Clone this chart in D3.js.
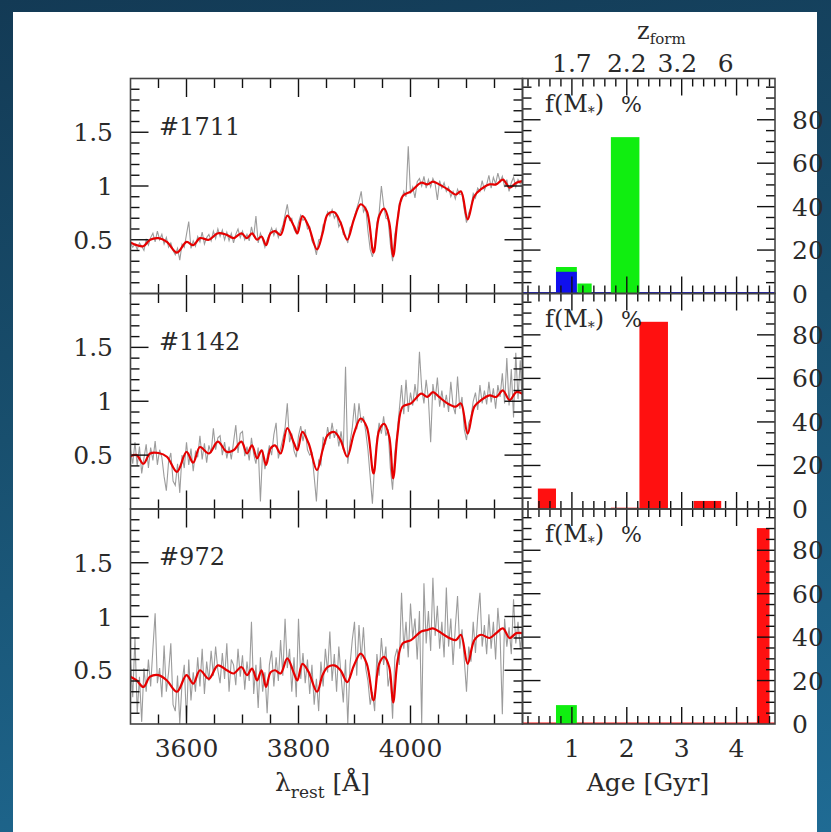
<!DOCTYPE html>
<html>
<head>
<meta charset="utf-8">
<script src="https://cdn.jsdelivr.net/npm/d3@7"></script>
<style>
    html, body { margin: 0; padding: 0; }
    body {
        width: 831px; height: 832px; overflow: hidden;
        background: linear-gradient(170deg, #133a55 0%, #184f6e 45%, #1f6b94 100%);
    }
    svg { display: block; }
    text { font-family: "DejaVu Serif", "Liberation Serif", serif; fill: #2a2a2a; }
</style>
</head>
<body>
<svg id="chart" width="831" height="832"></svg>
<script>

// galaxy ids, top to bottom
var galaxyIds = ["#1711", "#1142", "#972"];

// best fit model (red), read at these rest wavelengths
var modelWave = [3500, 3511, 3523, 3535, 3550, 3565, 3583, 3600, 3612, 3624,
    3640, 3656, 3672, 3684, 3698, 3708, 3717, 3726, 3734, 3742,
    3750, 3758, 3768, 3780, 3792, 3798, 3807, 3818, 3833, 3843,
    3852, 3864, 3875, 3887, 3899, 3911, 3922, 3934, 3944, 3953,
    3962, 3969, 3977, 3986, 4001, 4019, 4030, 4040, 4051, 4066,
    4081, 4090, 4102, 4114, 4126, 4141, 4153, 4165, 4177, 4189,
    4200];

var model1711 = [0.475, 0.45, 0.44, 0.50, 0.515, 0.48, 0.38, 0.48, 0.45, 0.515,
    0.50, 0.56, 0.545, 0.515, 0.56, 0.515, 0.56, 0.50, 0.53, 0.45,
    0.56, 0.58, 0.545, 0.725, 0.625, 0.56, 0.72, 0.625, 0.41, 0.56,
    0.735, 0.755, 0.66, 0.50, 0.69, 0.83, 0.765, 0.38, 0.72, 0.79,
    0.66, 0.345, 0.69, 0.905, 0.95, 1.03, 1.015, 1.04, 1.015, 0.97,
    0.92, 0.95, 0.69, 0.905, 0.97, 1.015, 1.015, 1.06, 0.985, 1.03,
    1.045];

var model1142 = [0.49, 0.50, 0.42, 0.515, 0.52, 0.485, 0.345, 0.53, 0.43, 0.575,
    0.515, 0.625, 0.53, 0.545, 0.625, 0.515, 0.59, 0.47, 0.545, 0.41,
    0.56, 0.59, 0.515, 0.75, 0.61, 0.545, 0.715, 0.61, 0.36, 0.545,
    0.685, 0.715, 0.64, 0.485, 0.70, 0.84, 0.76, 0.33, 0.73, 0.79,
    0.67, 0.285, 0.70, 0.95, 0.98, 1.07, 1.04, 1.085, 1.04, 0.98,
    0.95, 0.98, 0.70, 0.95, 1.01, 1.055, 1.04, 1.10, 1.01, 1.085,
    1.07];

var model972 = [0.44, 0.405, 0.345, 0.44, 0.455, 0.405, 0.30, 0.455, 0.375, 0.50,
    0.42, 0.545, 0.50, 0.47, 0.53, 0.455, 0.515, 0.405, 0.50, 0.345,
    0.48, 0.50, 0.47, 0.61, 0.47, 0.405, 0.56, 0.485, 0.30, 0.455,
    0.53, 0.545, 0.50, 0.39, 0.545, 0.655, 0.56, 0.22, 0.56, 0.625,
    0.53, 0.20, 0.59, 0.75, 0.78, 0.86, 0.875, 0.89, 0.86, 0.81,
    0.78, 0.83, 0.56, 0.78, 0.83, 0.80, 0.845, 0.89, 0.80, 0.845,
    0.845];

// observed spectra (grey), one value every 4 A from 3500 to 4200
var obs1711 = [0.47, 0.43, 0.46, 0.41, 0.47, 0.44, 0.40, 0.50, 0.45, 0.52,
    0.56, 0.48, 0.58, 0.50, 0.55, 0.46, 0.52, 0.43, 0.47, 0.40,
    0.36, 0.42, 0.31, 0.46, 0.43, 0.55, 0.67, 0.42, 0.49, 0.44,
    0.53, 0.48, 0.57, 0.46, 0.52, 0.55, 0.49, 0.58, 0.51, 0.60,
    0.53, 0.59, 0.50, 0.57, 0.49, 0.56, 0.47, 0.55, 0.60, 0.52,
    0.58, 0.50, 0.55, 0.49, 0.62, 0.53, 0.72, 0.47, 0.56, 0.50,
    0.43, 0.50, 0.55, 0.61, 0.54, 0.60, 0.52, 0.58, 0.63, 0.73,
    0.83, 0.68, 0.70, 0.60, 0.56, 0.66, 0.73, 0.68, 0.70, 0.60,
    0.62, 0.49, 0.45, 0.36, 0.50, 0.51, 0.64, 0.66, 0.76, 0.72,
    0.78, 0.70, 0.74, 0.62, 0.66, 0.55, 0.54, 0.47, 0.61, 0.64,
    0.72, 0.79, 0.86, 0.95, 0.76, 0.80, 0.58, 0.41, 0.34, 0.44,
    0.66, 0.75, 1.00, 0.82, 0.70, 0.69, 0.46, 0.30, 0.55, 0.66,
    0.84, 0.86, 0.95, 0.90, 1.37, 0.93, 0.99, 0.89, 1.04, 1.07,
    1.00, 1.09, 0.98, 1.06, 0.99, 1.07, 1.02, 0.87, 1.05, 0.98,
    1.03, 0.95, 0.99, 0.90, 0.95, 0.88, 0.97, 0.92, 0.93, 0.78,
    0.66, 0.75, 0.80, 0.93, 0.89, 0.98, 0.95, 1.05, 0.96, 1.01,
    1.10, 0.98, 1.08, 1.02, 1.12, 1.04, 1.09, 0.99, 1.06, 0.95,
    1.03, 1.08, 0.99, 1.06, 1.02, 1.05];

var obs1142 = [0.55, 0.42, 0.62, 0.40, 0.58, 0.33, 0.47, 0.60, 0.38, 0.57,
    0.45, 0.63, 0.41, 0.55, 0.48, 0.30, 0.17, 0.44, 0.52, 0.26,
    0.22, 0.42, 0.15, 0.50, 0.38, 0.62, 0.41, 0.56, 0.35, 0.53,
    0.48, 0.68, 0.46, 0.61, 0.43, 0.59, 0.52, 0.75, 0.55, 0.66,
    0.68, 0.50, 0.62, 0.47, 0.58, 0.46, 0.62, 0.78, 0.52, 0.70,
    0.72, 0.49, 0.58, 0.45, 0.66, 0.51, 0.42, 0.57, 0.07, 0.55,
    0.37, 0.48, 0.59, 0.50, 0.69, 0.80, 0.47, 0.56, 0.65, 0.75,
    0.98, 0.62, 0.70, 0.54, 0.48, 0.68, 0.77, 0.63, 0.74, 0.55,
    0.50, 0.52, 0.30, 0.07, 0.45, 0.41, 0.67, 0.60, 0.76, 0.65,
    0.80, 0.66, 0.74, 0.58, 0.72, 0.55, 1.32, 0.42, 0.62, 0.75,
    0.98, 0.74, 0.98, 0.80, 0.86, 0.72, 0.55, 0.30, 0.05, 0.42,
    0.65, 0.80, 0.70, 0.86, 0.68, 0.74, 0.38, 0.18, 0.52, 0.71,
    0.92, 1.15, 0.88, 1.20, 0.90, 1.08, 0.96, 1.16, 1.00, 1.46,
    1.12, 0.98, 1.20, 1.02, 0.62, 1.16, 1.01, 1.22, 0.95, 1.10,
    0.94, 1.06, 0.90, 1.18, 0.96, 0.88, 1.23, 0.93, 1.04, 0.74,
    0.64, 0.80, 0.85, 1.00, 1.08, 0.92, 1.15, 0.98, 1.10, 0.97,
    1.18, 0.99, 1.12, 0.93, 1.15, 1.04, 1.26, 0.98, 1.40, 0.96,
    1.30, 0.85, 1.45, 1.02, 1.38, 0.92];

var obs972 = [0.58, 0.25, 0.81, 0.10, 0.44, 0.02, 0.52, 0.30, 0.60, 0.35,
    0.70, 1.03, 0.38, 0.52, 0.25, 0.73, 0.30, 0.48, 0.75, 0.18,
    0.12, 0.45, 0.00, 0.38, 0.55, 0.02, 0.60, 0.22, 0.48, 0.30,
    0.62, 0.35, 0.70, 0.28, 0.58, 0.40, 0.68, 0.45, 0.72, 0.50,
    0.38, 0.66, 0.42, 0.75, 0.30, 0.60, 0.55, 0.36, 0.70, 0.44,
    0.64, 0.32, 0.58, 0.40, 0.95, 0.28, 0.55, 0.15, 0.62, 0.30,
    0.48, 0.10, 0.55, 0.68, 0.35, 0.62, 0.40, 0.78, 0.45, 0.98,
    0.52, 0.70, 0.30, 0.62, 0.25, 0.98, 0.42, 0.66, 0.38, 0.60,
    0.28, 0.55, 0.18, 0.42, 0.12, 0.58, 0.35, 0.70, 0.48, 0.86,
    0.40, 0.65, 0.30, 0.72, 0.45, 0.20, 0.60, 0.00, 0.55, 0.78,
    0.95, 0.45, 0.92, 0.60, 0.90, 0.52, 0.40, 0.18, 0.30, 0.12,
    0.65, 0.45, 0.80, 0.55, 0.72, 0.35, 0.48, 0.05, 0.62, 0.70,
    0.55, 1.22, 0.70, 0.95, 0.62, 1.12, 0.80, 0.98, 0.60, 1.05,
    0.00, 1.31, 0.75, 1.05, 0.68, 1.36, 0.82, 1.10, 0.70, 0.95,
    0.62, 1.27, 0.72, 0.98, 0.55, 0.90, 1.19, 0.70, 0.88, 0.60,
    0.30, 0.72, 0.58, 0.95, 0.66, 1.00, 1.22, 0.72, 0.92, 0.65,
    1.02, 0.70, 0.95, 0.60, 1.08, 0.82, 0.09, 0.98, 0.72, 0.90,
    0.65, 1.16, 0.75, 0.95, 0.70, 0.88];

// age bins of the mass fraction histograms [Gyr]
var binLo = [0.38, 0.71, 1.10, 1.71, 2.23, 3.22, 4.37];
var binHi = [0.71, 1.09, 1.36, 2.23, 2.75, 3.72, 4.60];

// f(M*) in % per bin, one array per colour
var fracRed1711   = [0, 0, 0, 0, 0, 0, 0];
var fracGreen1711 = [0, 12.2, 4.6, 72, 0, 0, 0];
var fracBlue1711  = [0, 10, 0, 0, 0, 0, 0];

var fracRed1142   = [9.4, 0, 0, 0.6, 86, 3.7, 0];
var fracGreen1142 = [0, 0, 0, 0, 0, 0, 0];
var fracBlue1142  = [0, 0, 0, 0, 0, 0, 0];

var fracRed972    = [0, 0, 0, 0, 0, 0, 90.2];
var fracGreen972  = [0, 8.7, 0, 0, 0, 0, 0];
var fracBlue972   = [0, 0, 0, 0, 0, 0, 0];

// axis labels
var waveTicks = [3600, 3800, 4000];
var fluxTicks = [0.5, 1, 1.5];
var ageTicks = [1, 2, 3, 4];
var fracTicks = [0, 20, 40, 60, 80];
var zformLabels = ["1.7", "2.2", "3.2", "6"];
var zformAge = [1, 2, 2.92, 3.8];

(function (d3) {

    "use strict";

    var svg = d3.select("#chart");

    var left = 130.5, mid = 522.5, right = 775;
    var tops = [78.5, 293.5, 509],
        bottoms = [293.5, 509, 724];

    var colRed = "#ff1010", colGreen = "#10ee10", colBlue = "#1010ee";

    // white page
    svg.append("rect")
        .attr("x", 13).attr("y", 12)
        .attr("width", 804).attr("height", 820)
        .attr("fill", "#ffffff");

    var xSpec = d3.scaleLinear().domain([3500, 4200]).range([left, mid]);
    var xAge = d3.scaleLinear().domain([0.1, 4.7]).range([mid, right]);

    var obsWave = d3.range(3500, 4201, 4);

    var panels = [
        { id: galaxyIds[0], model: model1711, obs: obs1711, red: fracRed1711, green: fracGreen1711, blue: fracBlue1711, zero: colBlue },
        { id: galaxyIds[1], model: model1142, obs: obs1142, red: fracRed1142, green: fracGreen1142, blue: fracBlue1142, zero: null },
        { id: galaxyIds[2], model: model972, obs: obs972, red: fracRed972, green: fracGreen972, blue: fracBlue972, zero: colRed }
    ];

    function vTicks(g, xs, y, len) {
        g.selectAll(null).data(xs).enter().append("line")
            .attr("x1", function (d) { return d; }).attr("x2", function (d) { return d; })
            .attr("y1", y).attr("y2", y + len)
            .attr("stroke", "#111").attr("stroke-width", 1.4);
    }

    function hTicks(g, ys, x, len) {
        g.selectAll(null).data(ys).enter().append("line")
            .attr("y1", function (d) { return d; }).attr("y2", function (d) { return d; })
            .attr("x1", x).attr("x2", x + len)
            .attr("stroke", "#111").attr("stroke-width", 1.4);
    }

    panels.forEach(function (p, i) {

        var top = tops[i], bottom = bottoms[i];
        var g = svg.append("g");

        var yFlux = d3.scaleLinear().domain([0, 2]).range([bottom, top]);
        var yFrac = d3.scaleLinear().domain([0, 99]).range([bottom, top]);

        // ----- spectrum panel
        var clipId = "clip" + i;
        svg.append("clipPath").attr("id", clipId)
            .append("rect")
                .attr("x", left).attr("y", top)
                .attr("width", mid - left).attr("height", bottom - top);

        var obsLine = d3.line()
            .x(function (d, k) { return xSpec(obsWave[k]); })
            .y(function (d) { return yFlux(d); });

        var modelLine = d3.line()
            .x(function (d, k) { return xSpec(modelWave[k]); })
            .y(function (d) { return yFlux(d); })
            .curve(d3.curveCatmullRom.alpha(0.5));

        g.append("path")
            .attr("clip-path", "url(#" + clipId + ")")
            .attr("d", obsLine(p.obs))
            .attr("fill", "none")
            .attr("stroke", "#9c9c9c")
            .attr("stroke-width", 1.1);

        g.append("path")
            .attr("clip-path", "url(#" + clipId + ")")
            .attr("d", modelLine(p.model))
            .attr("fill", "none")
            .attr("stroke", "#e60000")
            .attr("stroke-width", 2.2)
            .attr("stroke-linejoin", "round");

        // spectrum ticks
        var waveMinor = d3.range(3550, 4200, 50).filter(function (v) { return waveTicks.indexOf(v) < 0; });
        vTicks(g, waveMinor.map(xSpec), bottom, -9.5);
        vTicks(g, waveTicks.map(xSpec), bottom, -18.5);
        vTicks(g, waveMinor.map(xSpec), top, 9.5);
        vTicks(g, waveTicks.map(xSpec), top, 18.5);

        var fluxMinor = d3.range(1, 20).map(function (v) { return v / 10; })
            .filter(function (v) { return fluxTicks.indexOf(v) < 0; });
        hTicks(g, fluxMinor.map(yFlux), left, 9);
        hTicks(g, fluxTicks.map(yFlux), left, 18);
        hTicks(g, fluxMinor.map(yFlux), mid, -9);
        hTicks(g, fluxTicks.map(yFlux), mid, -18);

        g.selectAll(null).data(fluxTicks).enter().append("text")
            .attr("x", 113)
            .attr("y", function (d) { return yFlux(d); })
            .attr("dy", "0.36em")
            .attr("text-anchor", "end")
            .attr("font-size", 25)
            .text(function (d) { return d; });

        g.append("text")
            .attr("x", 159).attr("y", top + 56)
            .attr("font-size", 24)
            .text(p.id);

        // ----- mass fraction panel
        if (p.zero) {
            g.append("line")
                .attr("x1", mid).attr("x2", right)
                .attr("y1", bottom - 0.8).attr("y2", bottom - 0.8)
                .attr("stroke", p.zero).attr("stroke-width", 1.6);
        }

        [["red", colRed], ["green", colGreen], ["blue", colBlue]].forEach(function (c) {
            var vals = p[c[0]];
            g.selectAll(null).data(d3.range(vals.length).filter(function (k) { return vals[k] > 0; }))
                .enter().append("rect")
                    .attr("x", function (k) { return xAge(binLo[k]); })
                    .attr("width", function (k) { return xAge(binHi[k]) - xAge(binLo[k]); })
                    .attr("y", function (k) { return yFrac(vals[k]); })
                    .attr("height", function (k) { return yFrac(0) - yFrac(vals[k]); })
                    .attr("fill", c[1]);
        });

        var ageMinor = d3.range(1, 24).map(function (v) { return v / 5; })
            .filter(function (v) { return ageTicks.indexOf(v) < 0; });
        vTicks(g, ageMinor.map(xAge), bottom, -8);
        vTicks(g, ageTicks.map(xAge), bottom, -17);
        vTicks(g, ageMinor.map(xAge), top, 8);
        vTicks(g, ageTicks.map(xAge), top, 17);

        var fracMinor = d3.range(5, 99, 5).filter(function (v) { return fracTicks.indexOf(v) < 0; });
        hTicks(g, fracMinor.map(yFrac), mid, 9);
        hTicks(g, fracTicks.slice(1).map(yFrac), mid, 18);
        hTicks(g, fracMinor.map(yFrac), right, -9);
        hTicks(g, fracTicks.slice(1).map(yFrac), right, -18);

        g.selectAll(null).data(fracTicks).enter().append("text")
            .attr("x", 792)
            .attr("y", function (d) { return yFrac(d); })
            .attr("dy", "0.36em")
            .attr("font-size", 25)
            .text(function (d) { return d; });

        var fm = g.append("text")
            .attr("x", 545).attr("y", top + 33)
            .attr("font-size", 24);
        fm.append("tspan").text("f(M");
        fm.append("tspan").attr("dy", 5).attr("font-size", 14).text("*");
        fm.append("tspan").attr("dy", -5).text(")");

        g.append("text")
            .attr("x", 621).attr("y", top + 33)
            .attr("font-size", 22)
            .text("%");

        // frames
        g.append("rect")
            .attr("x", left).attr("y", top)
            .attr("width", mid - left).attr("height", bottom - top)
            .attr("fill", "none").attr("stroke", "#444").attr("stroke-width", 1.6);
        g.append("rect")
            .attr("x", mid).attr("y", top)
            .attr("width", right - mid).attr("height", bottom - top)
            .attr("fill", "none").attr("stroke", "#444").attr("stroke-width", 1.6);
    });

    // bottom axis labels
    svg.selectAll(null).data(waveTicks).enter().append("text")
        .attr("x", function (d) { return xSpec(d); })
        .attr("y", 757)
        .attr("text-anchor", "middle")
        .attr("font-size", 25)
        .text(function (d) { return d; });

    svg.selectAll(null).data(ageTicks).enter().append("text")
        .attr("x", function (d) { return xAge(d); })
        .attr("y", 757)
        .attr("text-anchor", "middle")
        .attr("font-size", 25)
        .text(function (d) { return d; });

    var lam = svg.append("text")
        .attr("x", 275).attr("y", 791)
        .attr("font-size", 25);
    lam.append("tspan").text("λ");
    lam.append("tspan").attr("dy", 7).attr("font-size", 17).text("rest");
    lam.append("tspan").attr("dy", -7).text(" [Å]");

    svg.append("text")
        .attr("x", 648).attr("y", 791)
        .attr("text-anchor", "middle")
        .attr("font-size", 25)
        .text("Age [Gyr]");

    // formation redshift along the top
    svg.selectAll(null).data(zformLabels).enter().append("text")
        .attr("x", function (d, k) { return xAge(zformAge[k]); })
        .attr("y", 72)
        .attr("text-anchor", "middle")
        .attr("font-size", 25)
        .text(function (d) { return d; });

    var zf = svg.append("text")
        .attr("x", 637).attr("y", 39)
        .attr("font-size", 24);
    zf.append("tspan").text("z");
    zf.append("tspan").attr("dy", 5).attr("font-size", 15).text("form");

}(d3));
</script>
</body>
</html>
